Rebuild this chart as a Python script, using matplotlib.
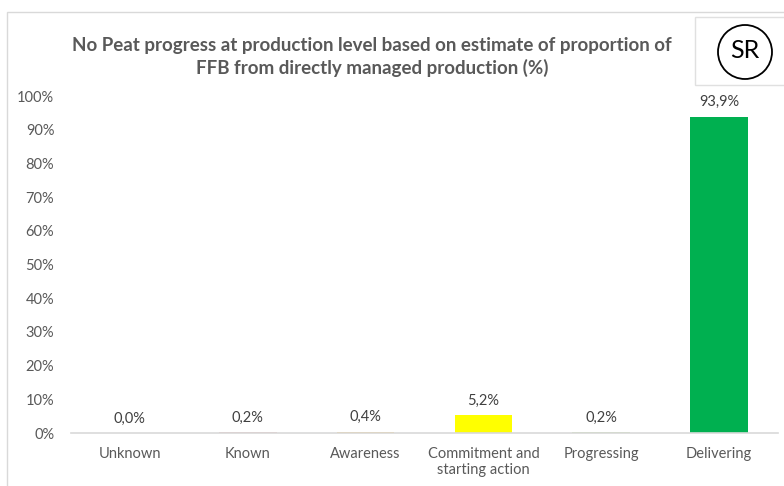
import matplotlib.pyplot as plt
from matplotlib.patches import Rectangle, Ellipse

categories = ["Unknown", "Known", "Awareness", "Commitment and\nstarting action", "Progressing", "Delivering"]
values = [0.0, 0.2, 0.4, 5.2, 0.2, 93.9]
labels = ["0,0%", "0,2%", "0,4%", "5,2%", "0,2%", "93,9%"]
colors = ["#BFBFBF", "#E6B8B7", "#F8CB6A", "#FFFF00", "#C4E3A4", "#00B050"]
yticks = [0, 10, 20, 30, 40, 50, 60, 70, 80, 90, 100]

plt.rcParams["font.family"] = ["Lato", "DejaVu Sans"]
txt = "#595959"

fig = plt.figure(figsize=(7.84, 4.86), dpi=100)
# chart border
fig.patches.append(Rectangle((7 / 784, -0.01), 1.0, 1 - 12 / 486 + 0.01, transform=fig.transFigure,
                             fill=False, edgecolor="#D9D9D9", linewidth=1))

ax = fig.add_axes([71 / 784, 1 - 433 / 486, 707 / 784, 337 / 486])
x = range(len(categories))
ax.bar(x, values, width=0.49, color=colors)
for i, (v, lab) in enumerate(zip(values, labels)):
    ax.text(i, v + 2.2, lab, ha="center", va="bottom", fontsize=10.5, color="#404040")

ax.set_ylim(0, 100)
ax.set_xlim(-0.5, len(categories) - 0.5)
ax.set_yticks(yticks)
ax.set_yticklabels([f"{t}%" for t in yticks], fontsize=10.5, color=txt)
ax.set_xticks(list(x))
ax.set_xticklabels(categories, fontsize=10.5, color=txt)
ax.tick_params(length=0)
ax.tick_params(axis="x", pad=10)
ax.tick_params(axis="y", pad=12)
for s in ["top", "right", "left"]:
    ax.spines[s].set_visible(False)
ax.spines["bottom"].set_color("#D9D9D9")
ax.spines["bottom"].set_linewidth(1.2)

fig.text(372 / 784, 1 - 57 / 486,
         "No Peat progress at production level based on estimate of proportion of\nFFB from directly managed production (%)",
         ha="center", va="center", fontsize=13.5, fontweight="bold", color=txt, linespacing=1.3)

# SR badge
fig.patches.append(Rectangle((695 / 784, 1 - 85 / 486), 0.2, 68 / 486, transform=fig.transFigure,
                             facecolor="white", edgecolor="#E0E0E0", linewidth=1))
fig.patches.append(Ellipse((745 / 784, 1 - 52 / 486), 54 / 784, 54 / 486, transform=fig.transFigure,
                           fill=False, edgecolor="black", linewidth=1.3))
fig.text(745 / 784, 1 - 51 / 486, "SR", ha="center", va="center", fontsize=18, color="black")

fig.savefig("out.png", dpi=100)
